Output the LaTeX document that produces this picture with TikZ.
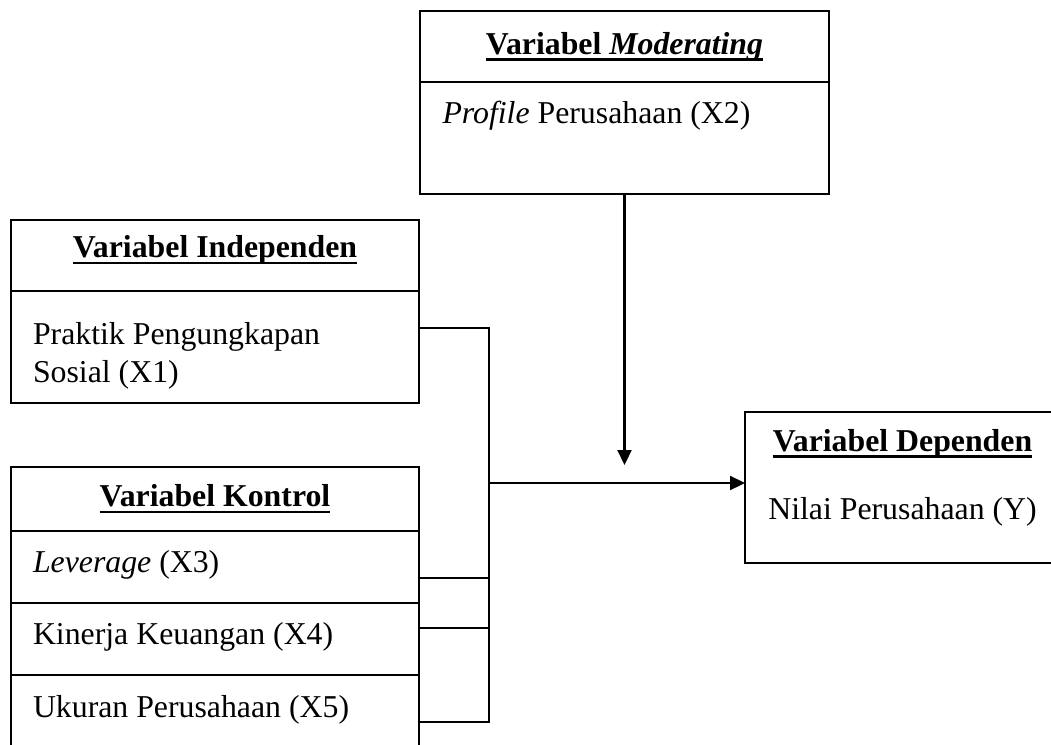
\documentclass[tikz,border=0pt]{standalone}
\usepackage{fontspec}
\setmainfont{Liberation Serif}
\usetikzlibrary{arrows.meta,positioning,calc}
\newcommand{\garisbawah}[1]{\setbox0\hbox{#1}\leavevmode\rlap{\rule[-6.5pt]{\wd0}{2.5pt}}\box0}

\begin{document}
\begin{tikzpicture}[x=1pt, y=-1pt, font={\fontsize{31.8}{38.5}\selectfont},
  kotak/.style={draw, line width=2pt, inner sep=0pt, outer sep=0pt, minimum width=408pt},
  judul/.style={kotak, text height=22pt, text depth=7pt, font={\fontsize{31.8}{38.5}\selectfont\bfseries}},
  isi/.style={kotak, align=flush left, text width=364pt, inner xsep=22pt, text height=24pt, text depth=14pt},
  garis/.style={line width=2.2pt},
  panah/.style={-{Triangle[length=15pt,width=14pt]}, line width=2.2pt}]
\useasboundingbox (0,0) rectangle (1051,744);
\node[judul, anchor=north west, minimum width=409pt, minimum height=71pt] (mjudul) at (420,11) {\garisbawah{Variabel \textit{Moderating}}};
\node[isi, below=0pt of mjudul, minimum width=409pt, minimum height=112pt, text depth=54pt] (mbody) {\textit{Profile} Perusahaan (X2)};
\node[judul, anchor=north west, minimum height=71pt, text depth=18pt] (ijudul) at (11,220) {\garisbawah{Variabel Independen}};
\node[isi, below=0pt of ijudul, minimum height=112pt, text depth=30pt] (ibody) {Praktik Pengungkapan\\Sosial (X1)};
\node[judul, anchor=north west, minimum height=64pt] (kjudul) at (11,467) {\garisbawah{Variabel Kontrol}};
\node[isi, below=0pt of kjudul, minimum height=72pt] (klev) {\textit{Leverage} (X3)};
\node[isi, below=0pt of klev, minimum height=72pt] (kkin) {Kinerja Keuangan (X4)};
\node[isi, below=0pt of kkin, minimum height=74pt] (kuku) {Ukuran Perusahaan (X5)};
\node[kotak, anchor=north west, minimum width=315pt, minimum height=151pt, align=center, text height=77pt, text depth=14pt] (dep) at (745,412) {\garisbawah{\textbf{Variabel Dependen}}\\[29.5pt]Nilai Perusahaan (Y)};
\coordinate (t1) at (489,328);
\coordinate (t3) at (489,578);
\coordinate (t4) at (489,628);
\coordinate (t5) at (489,722);
\coordinate (tengah) at (489,483);
\coordinate (ujung) at (623,465);
\draw[garis] (ibody.east |- t1) -- (t1) -- (t5) -- (kuku.east |- t5);
\draw[garis] (klev.east |- t3) -- (t3);
\draw[garis] (kkin.east |- t4) -- (t4);
\draw[panah] (tengah) -- (dep.west |- tengah);
\draw[panah] (mbody.south) -- (mbody.south |- ujung);
\end{tikzpicture}
\end{document}
